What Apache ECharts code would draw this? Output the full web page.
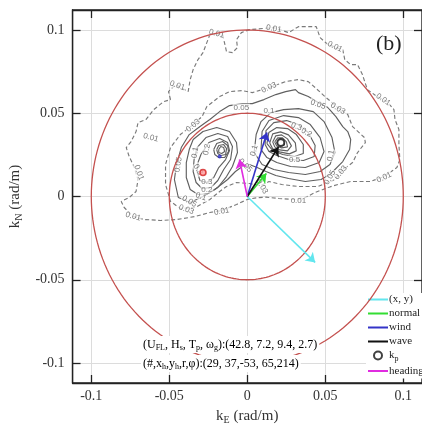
<!DOCTYPE html>
<html>
<head>
<meta charset="utf-8">
<script src="https://cdn.jsdelivr.net/npm/echarts@6/dist/echarts.min.js"></script>
<style>
  html, body { margin: 0; padding: 0; background: #fff; }
  #chart { width: 422px; height: 430px; }
</style>
</head>
<body>
<div id="chart"></div>
<script>
// Wavenumber axes (rad/m)
const AXIS_TICKS = [-0.1, -0.05, 0, 0.05, 0.1];
const AXIS_RANGE = [-0.112, 0.112];

// Reference rings (radius in rad/m)
const RING_RADII = [0.05, 0.1];

// Directional spectrum contours, [kE, kN] vertices
const CONTOUR_0_01 = [
  [-0.0240,0.0972],[-0.0196,0.0978],[-0.0158,0.0972],[-0.0133,0.0870],[-0.0095,0.0864],[-0.0063,0.0894],
  [-0.0069,0.0942],[-0.0038,0.0984],[0.0013,0.1002],[0.0170,0.1014],[0.0265,0.0984],[0.0328,0.1020],
  [0.0442,0.1020],[0.0467,0.0954],[0.0517,0.0912],[0.0612,0.0882],[0.0625,0.0822],[0.0663,0.0792],
  [0.0707,0.0792],[0.0738,0.0732],[0.0770,0.0642],[0.0833,0.0600],[0.0896,0.0570],[0.0940,0.0522],
  [0.0947,0.0462],[0.0972,0.0402],[0.0972,0.0312],[0.0978,0.0222],[0.0959,0.0174],[0.0877,0.0120],
  [0.0789,0.0090],[0.0663,0.0090],[0.0581,0.0072],[0.0517,0.0054],[0.0435,0.0024],[0.0372,-0.0006],
  [0.0297,-0.0018],[0.0202,-0.0012],[0.0120,-0.0004],[0.0057,-0.0008],[0.0000,-0.0018],[-0.0069,-0.0048],
  [-0.0164,-0.0084],[-0.0240,-0.0096],[-0.0334,-0.0120],[-0.0448,-0.0138],[-0.0555,-0.0144],[-0.0663,-0.0138],
  [-0.0732,-0.0120],[-0.0789,-0.0066],[-0.0808,-0.0030],[-0.0757,-0.0006],[-0.0713,0.0030],[-0.0700,0.0102],
  [-0.0726,0.0180],[-0.0757,0.0240],[-0.0776,0.0294],[-0.0745,0.0330],[-0.0713,0.0390],[-0.0700,0.0444],
  [-0.0650,0.0462],[-0.0599,0.0522],[-0.0536,0.0570],[-0.0492,0.0582],[-0.0505,0.0630],[-0.0461,0.0672],
  [-0.0379,0.0630],[-0.0366,0.0702],[-0.0347,0.0762],[-0.0316,0.0822],[-0.0284,0.0864],[-0.0252,0.0942]
];
const CONTOUR_0_03 = [
  [-0.0347,0.0432],[-0.0290,0.0480],[-0.0259,0.0540],[-0.0177,0.0600],[-0.0114,0.0630],[-0.0032,0.0636],
  [0.0032,0.0624],[0.0139,0.0654],[0.0246,0.0690],[0.0328,0.0702],[0.0391,0.0690],[0.0435,0.0654],
  [0.0498,0.0600],[0.0581,0.0534],[0.0644,0.0492],[0.0675,0.0420],[0.0751,0.0354],[0.0757,0.0324],
  [0.0707,0.0264],[0.0675,0.0204],[0.0599,0.0150],[0.0562,0.0102],[0.0454,0.0060],[0.0328,0.0060],
  [0.0221,0.0072],[0.0139,0.0090],[0.0088,0.0066],[0.0013,0.0078],[-0.0069,0.0084],[-0.0133,0.0060],
  [-0.0177,0.0030],[-0.0240,-0.0018],[-0.0334,-0.0066],[-0.0429,-0.0072],[-0.0492,-0.0030],[-0.0524,0.0072],
  [-0.0524,0.0192],[-0.0492,0.0294],[-0.0429,0.0372]
];
const CONTOUR_0_05 = [
  [-0.0303,0.0420],[-0.0240,0.0462],[-0.0177,0.0510],[-0.0114,0.0546],[-0.0032,0.0558],[0.0032,0.0558],
  [0.0107,0.0582],[0.0183,0.0612],[0.0246,0.0630],[0.0309,0.0642],[0.0328,0.0624],[0.0391,0.0600],
  [0.0454,0.0564],[0.0517,0.0534],[0.0568,0.0480],[0.0612,0.0420],[0.0644,0.0390],[0.0663,0.0342],
  [0.0656,0.0282],[0.0612,0.0210],[0.0530,0.0132],[0.0473,0.0102],[0.0372,0.0090],[0.0265,0.0108],
  [0.0183,0.0126],[0.0120,0.0150],[0.0063,0.0174],[0.0013,0.0192],[-0.0032,0.0180],[-0.0076,0.0150],
  [-0.0126,0.0102],[-0.0208,0.0042],[-0.0284,0.0000],[-0.0366,-0.0036],[-0.0442,-0.0006],[-0.0467,0.0102],
  [-0.0454,0.0192],[-0.0423,0.0294],[-0.0372,0.0372]
];
const CONTOUR_0_1_WEST = [
  [-0.0347,0.0342],[-0.0284,0.0390],[-0.0196,0.0414],[-0.0114,0.0390],[-0.0069,0.0324],[-0.0063,0.0264],
  [-0.0095,0.0180],[-0.0133,0.0120],[-0.0189,0.0054],[-0.0252,0.0018],[-0.0316,0.0012],[-0.0366,0.0042],
  [-0.0391,0.0114],[-0.0391,0.0204],[-0.0372,0.0282]
];
const CONTOUR_0_2_WEST = [
  [-0.0322,0.0294],[-0.0265,0.0354],[-0.0189,0.0378],[-0.0126,0.0360],[-0.0095,0.0300],[-0.0107,0.0222],
  [-0.0151,0.0162],[-0.0189,0.0096],[-0.0233,0.0054],[-0.0290,0.0048],[-0.0328,0.0084],[-0.0347,0.0150],
  [-0.0341,0.0222]
];
const CONTOUR_0_3_WEST = [
  [-0.0297,0.0252],[-0.0246,0.0324],[-0.0177,0.0348],[-0.0126,0.0324],[-0.0114,0.0276],[-0.0139,0.0222],
  [-0.0183,0.0174],[-0.0215,0.0114],[-0.0259,0.0084],[-0.0303,0.0096],[-0.0322,0.0150],[-0.0316,0.0204]
];
const CONTOUR_0_4_WEST = [
  [-0.0215,0.0282],[-0.0196,0.0318],[-0.0158,0.0330],[-0.0126,0.0306],[-0.0120,0.0270],[-0.0145,0.0234],
  [-0.0183,0.0234],[-0.0208,0.0252]
];
const CONTOUR_0_5_WEST = [
  [-0.0196,0.0282],[-0.0183,0.0306],[-0.0151,0.0312],[-0.0133,0.0288],[-0.0139,0.0252],[-0.0170,0.0246],
  [-0.0189,0.0258]
];
const CONTOUR_0_6_WEST = [
  [-0.0183,0.0282],[-0.0170,0.0300],[-0.0151,0.0294],[-0.0145,0.0270],[-0.0164,0.0258],[-0.0183,0.0264]
];
const CONTOUR_0_1_EAST = [
  [0.0044,0.0264],[0.0057,0.0372],[0.0088,0.0450],[0.0151,0.0504],[0.0233,0.0522],[0.0328,0.0528],
  [0.0423,0.0510],[0.0492,0.0450],[0.0543,0.0354],[0.0562,0.0264],[0.0530,0.0192],[0.0467,0.0150],
  [0.0372,0.0132],[0.0265,0.0144],[0.0170,0.0162],[0.0095,0.0192]
];
const CONTOUR_0_2_EAST = [
  [0.0088,0.0282],[0.0095,0.0390],[0.0139,0.0456],[0.0233,0.0486],[0.0328,0.0474],[0.0404,0.0432],
  [0.0467,0.0354],[0.0492,0.0270],[0.0461,0.0204],[0.0372,0.0174],[0.0278,0.0180],[0.0189,0.0204],
  [0.0126,0.0234]
];
const CONTOUR_0_3_EAST = [
  [0.0114,0.0312],[0.0120,0.0396],[0.0170,0.0444],[0.0252,0.0456],[0.0328,0.0432],[0.0391,0.0384],
  [0.0435,0.0306],[0.0429,0.0240],[0.0360,0.0216],[0.0265,0.0222],[0.0189,0.0246],[0.0139,0.0270]
];
const CONTOUR_0_4_EAST = [
  [0.0126,0.0318],[0.0138,0.0384],[0.0189,0.0414],[0.0258,0.0408],[0.0315,0.0372],[0.0359,0.0312],
  [0.0359,0.0258],[0.0303,0.0240],[0.0227,0.0252],[0.0164,0.0276]
];
const CONTOUR_0_5_EAST = [
  [0.0144,0.0322],[0.0163,0.0376],[0.0213,0.0388],[0.0264,0.0370],[0.0308,0.0322],[0.0314,0.0274],
  [0.0270,0.0256],[0.0207,0.0268],[0.0163,0.0286]
];
const CONTOUR_0_6_EAST = [
  [0.0163,0.0328],[0.0182,0.0364],[0.0220,0.0370],[0.0258,0.0346],[0.0283,0.0304],[0.0258,0.0274],
  [0.0207,0.0280],[0.0176,0.0298]
];
const CONTOUR_0_7_EAST = [
  [0.0176,0.0328],[0.0195,0.0352],[0.0226,0.0352],[0.0251,0.0328],[0.0258,0.0298],[0.0220,0.0292],
  [0.0188,0.0304]
];
const CONTOUR_0_8_EAST = [
  [0.0188,0.0322],[0.0207,0.0340],[0.0232,0.0334],[0.0239,0.0310],[0.0213,0.0304]
];

// Contour level labels: [kE, kN, text, rotation]
const CONTOUR_LABELS = [
  [-0.0196,0.0978,'0.01',-15],[0.0170,0.1008,'0.01',-10],[0.0562,0.0900,'0.01',-25],[0.0871,0.0582,'0.01',-35],
  [0.0877,0.0114,'0.01',25],[0.0328,-0.0024,'0.01',0],[-0.0164,-0.0090,'0.01',10],[-0.0732,-0.0120,'0.01',-15],
  [-0.0694,0.0144,'0.01',-70],[-0.0618,0.0354,'0.01',-15],[-0.0448,0.0666,'0.01',-20],
  [-0.0347,0.0426,'0.03',40],[0.0139,0.0654,'0.03',25],[0.0581,0.0528,'0.03',-30],[0.0599,0.0144,'0.03',50],
  [-0.0391,-0.0078,'0.03',-20],[0.0095,0.0060,'0.03',-60],
  [-0.0038,0.0534,'0.05',0],[0.0454,0.0552,'0.05',-20],[0.0530,0.0114,'0.05',60],[-0.0372,-0.0030,'0.05',-30],
  [-0.0442,0.0192,'0.05',80],[-0.0013,0.0186,'0.05',-45],
  [0.0139,0.0516,'0.1',0],[0.0536,0.0246,'0.1',80],[-0.0334,0.0264,'0.1',80],[-0.0297,0.0000,'0.1',-20],
  [0.0044,0.0276,'0.1',75],
  [0.0379,0.0384,'0.2',-30],[-0.0259,0.0282,'0.2',80],[-0.0259,0.0042,'0.2',0],
  [0.0316,0.0420,'0.3',-20],[-0.0316,0.0162,'0.3',-60],[-0.0259,0.0090,'0.3',0],
  [0.0303,0.0222,'0.5',0]
];

// Direction vectors from the origin, [kE, kN] tips
const VEC_XY = [0.0435, -0.0396];
const VEC_NORMAL = [0.0122, 0.0138];
const VEC_WIND = [0.0126, 0.0385];
const VEC_WAVE = [0.0200, 0.0298];
const VEC_HEADING = [-0.0050, 0.0222];

// Spectral peaks
const PEAK_KP = [0.0215, 0.0324];
const PEAK_WEST = [-0.0177, 0.0240];
const PEAK_SECONDARY = [-0.0284, 0.0144];

const SERIF = '"Liberation Serif", "DejaVu Serif", serif';

function closed(points) { return points.concat([points[0]]); }

function ringPoints(r) {
  const pts = [];
  for (let i = 0; i <= 180; i++) {
    const a = i * 2 * Math.PI / 180;
    pts.push([r * Math.cos(a), r * Math.sin(a)]);
  }
  return pts;
}

function contourSeries(points, dashed) {
  return {
    type: 'line', data: closed(points), symbol: 'none', silent: true, z: 2,
    lineStyle: { color: dashed ? '#7a7a7a' : '#606060', width: 1.15, type: dashed ? [4, 2.5] : 'solid' }
  };
}

function vectorSeries(name, tip, color) {
  return {
    type: 'lines', name: name, coordinateSystem: 'cartesian2d', z: 6,
    data: [{ coords: [[0, 0], tip] }],
    symbol: ['none', 'arrow'], symbolSize: [0, 9],
    lineStyle: { color: color, width: 1.6, opacity: 1, curveness: 0 }
  };
}

const series = [];
[CONTOUR_0_01, CONTOUR_0_03].forEach(c => series.push(contourSeries(c, true)));
[CONTOUR_0_05, CONTOUR_0_1_WEST, CONTOUR_0_2_WEST, CONTOUR_0_3_WEST, CONTOUR_0_4_WEST, CONTOUR_0_5_WEST,
 CONTOUR_0_6_WEST, CONTOUR_0_1_EAST, CONTOUR_0_2_EAST, CONTOUR_0_3_EAST, CONTOUR_0_4_EAST, CONTOUR_0_5_EAST,
 CONTOUR_0_6_EAST, CONTOUR_0_7_EAST, CONTOUR_0_8_EAST].forEach(c => series.push(contourSeries(c, false)));

series.push({
  type: 'scatter', symbolSize: 0, silent: true, z: 3,
  data: CONTOUR_LABELS.map(d => ({
    value: [d[0], d[1]],
    label: { show: true, position: 'inside', formatter: d[2], rotate: d[3] }
  })),
  label: { fontSize: 8, color: '#555', fontFamily: 'Arial, "Liberation Sans", sans-serif',
           backgroundColor: 'rgba(255,255,255,0.85)', padding: [0, 1] }
});

RING_RADII.forEach(r => series.push({
  type: 'line', data: ringPoints(r), symbol: 'none', silent: true, z: 4,
  lineStyle: { color: '#c4514f', width: 1.3 }
}));

series.push(vectorSeries('(x, y)', VEC_XY, '#62e6ee'));
series.push(vectorSeries('normal', VEC_NORMAL, '#33dd33'));
series.push(vectorSeries('wind', VEC_WIND, '#3434c8'));
series.push(vectorSeries('wave', VEC_WAVE, '#111111'));
series.push(vectorSeries('heading', VEC_HEADING, '#e02ce0'));

series.push({
  type: 'scatter', name: 'kp', data: [PEAK_KP], symbol: 'circle', symbolSize: 7, z: 7,
  itemStyle: { color: '#ffffff', borderColor: '#111', borderWidth: 2 }
});
series.push({
  type: 'scatter', data: [PEAK_WEST], symbol: 'circle', symbolSize: 4, z: 7, silent: true,
  itemStyle: { color: '#2a2acc' }
});
series.push({
  type: 'scatter', data: [PEAK_SECONDARY], symbol: 'circle', symbolSize: 6, z: 7, silent: true,
  itemStyle: { color: '#ff9a9a', borderColor: '#d42020', borderWidth: 1.6 }
});

// Legend stroke icon: a 2px bar centred in a 20x8 box (corner points hold the box size)
const LINE_ICON = 'path://M0,0L0,0Z M20,8L20,8Z M0,3H20V5H0Z';
const subRich = {
  m: { fontFamily: SERIF, fontSize: 12, lineHeight: 15, color: '#222' },
  s: { fontFamily: SERIF, fontSize: 8, lineHeight: 8, verticalAlign: 'bottom', color: '#222' }
};
const legendRich = {
  m: { fontFamily: SERIF, fontSize: 11, lineHeight: 14, color: '#222' },
  s: { fontFamily: SERIF, fontSize: 8, lineHeight: 8, verticalAlign: 'bottom', color: '#222' }
};
function lineLegend(name, color) {
  return { name: name, icon: LINE_ICON, itemStyle: { color: color, borderWidth: 0, borderColor: 'transparent' } };
}

const chart = echarts.init(document.getElementById('chart'), null, { renderer: 'canvas' });
chart.setOption({
  animation: false,
  backgroundColor: '#fff',
  grid: { left: 70, top: 10, right: -3, bottom: 47, show: true, borderColor: '#222', borderWidth: 1.3,
          containLabel: false },
  xAxis: [{
    type: 'value', min: AXIS_RANGE[0], max: AXIS_RANGE[1],
    axisLine: { show: true, onZero: false, lineStyle: { color: '#222', width: 1.3 } },
    axisTick: { show: true, inside: true, length: 8, customValues: AXIS_TICKS, lineStyle: { color: '#222', width: 1.3 } },
    axisLabel: { customValues: AXIS_TICKS, fontFamily: SERIF, fontSize: 14, color: '#333', margin: 6,
                 formatter: v => String(v) },
    splitLine: { show: true, lineStyle: { color: '#dcdcdc', width: 1 } },
    name: '{m|k}{s|E}{m| (rad/m)}', nameLocation: 'middle', nameGap: 24,
    nameTextStyle: { rich: {
      m: { fontFamily: SERIF, fontSize: 15, lineHeight: 18, color: '#333' },
      s: { fontFamily: SERIF, fontSize: 10, lineHeight: 10, verticalAlign: 'bottom', color: '#333' } } }
  }, {
    type: 'value', position: 'top', min: AXIS_RANGE[0], max: AXIS_RANGE[1],
    axisLine: { show: true, onZero: false, lineStyle: { color: '#222', width: 1.3 } },
    axisTick: { show: true, inside: true, length: 8, customValues: AXIS_TICKS, lineStyle: { color: '#222', width: 1.3 } },
    axisLabel: { show: false }, splitLine: { show: false }
  }],
  yAxis: [{
    type: 'value', min: AXIS_RANGE[0], max: AXIS_RANGE[1],
    axisLine: { show: true, onZero: false, lineStyle: { color: '#222', width: 1.3 } },
    axisTick: { show: true, inside: true, length: 8, customValues: AXIS_TICKS, lineStyle: { color: '#222', width: 1.3 } },
    axisLabel: { customValues: AXIS_TICKS, fontFamily: SERIF, fontSize: 14, color: '#333', margin: 8,
                 formatter: v => String(v) },
    splitLine: { show: true, lineStyle: { color: '#dcdcdc', width: 1 } },
    name: '{m|k}{s|N}{m| (rad/m)}', nameLocation: 'middle', nameGap: 42,
    nameTextStyle: { rich: {
      m: { fontFamily: SERIF, fontSize: 15, lineHeight: 18, color: '#333' },
      s: { fontFamily: SERIF, fontSize: 10, lineHeight: 10, verticalAlign: 'bottom', color: '#333' } } }
  }, {
    type: 'value', position: 'right', min: AXIS_RANGE[0], max: AXIS_RANGE[1],
    axisLine: { show: true, onZero: false, lineStyle: { color: '#222', width: 1.3 } },
    axisTick: { show: true, inside: true, length: 8, customValues: AXIS_TICKS, lineStyle: { color: '#222', width: 1.3 } },
    axisLabel: { show: false }, splitLine: { show: false }
  }],
  legend: {
    orient: 'vertical', left: 366, top: 293, padding: [1, 4, 2, 2],
    backgroundColor: '#fff', itemWidth: 20, itemHeight: 8, itemGap: 3,
    selectedMode: false,
    data: [
      lineLegend('(x, y)', '#62e6ee'),
      lineLegend('normal', '#33dd33'),
      lineLegend('wind', '#3434c8'),
      lineLegend('wave', '#111111'),
      { name: 'kp', icon: 'circle', itemStyle: { color: '#ffffff', borderColor: '#111', borderWidth: 2 } },
      lineLegend('heading', '#e02ce0')
    ],
    formatter: name => name === 'kp' ? '{m|k}{s|p}' : '{m|' + name + '}',
    textStyle: { padding: [0, 0, 0, -4], rich: legendRich }
  },
  graphic: [
    { type: 'text', left: 376, top: 33, z: 10,
      style: { text: '(b)', font: '22px ' + SERIF, fill: '#222', backgroundColor: '#fff' } },
    { type: 'text', left: 141, top: 336, z: 10,
      style: { text: '{m|(U}{s|FL}{m|, H}{s|s}{m|, T}{s|p}{m|, ω}{s|g}{m|):(42.8, 7.2, 9.4, 2.7)}',
               rich: subRich, backgroundColor: '#fff', padding: [1, 2] } },
    { type: 'text', left: 141, top: 355, z: 10,
      style: { text: '{m|(#,x}{s|h}{m|,y}{s|h}{m|,r,φ):(29, 37,-53, 65,214)}',
               rich: subRich, backgroundColor: '#fff', padding: [1, 2] } }
  ],
  series: series
});
</script>
</body>
</html>
